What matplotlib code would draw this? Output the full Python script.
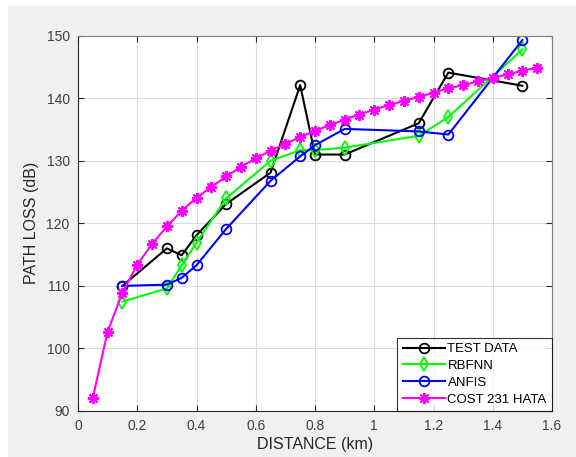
import matplotlib
matplotlib.use("Agg")
import matplotlib.pyplot as plt
from matplotlib.patches import Rectangle

plt.rcParams['font.family'] = ['Liberation Sans', 'DejaVu Sans']

# Measured path loss and model predictions (dB) versus distance (km)
distance = [0.15, 0.30, 0.35, 0.40, 0.50, 0.65, 0.75, 0.80, 0.90, 1.15, 1.25, 1.50]
test_data = [110.0, 116.0, 114.9, 118.1, 123.1, 128.1, 142.1, 131.0, 131.0, 136.0, 144.1, 142.0]
rbfnn = [107.5, 109.6, 113.3, 116.9, 124.0, 130.0, 131.7, 131.7, 132.1, 134.0, 137.0, 147.8]
anfis = [110.0, 110.2, 111.3, 113.3, 119.1, 126.8, 130.7, 132.5, 135.1, 134.7, 134.2, 149.3]

hata_distance = [0.05, 0.10, 0.15, 0.20, 0.25, 0.30, 0.35, 0.40, 0.45, 0.50,
                 0.55, 0.60, 0.65, 0.70, 0.75, 0.80, 0.85, 0.90, 0.95, 1.00,
                 1.05, 1.10, 1.15, 1.20, 1.25, 1.30, 1.35, 1.40, 1.45, 1.50, 1.55]
hata = [92.1, 102.7, 108.9, 113.4, 116.7, 119.5, 122.0, 124.1, 125.8, 127.5,
        129.0, 130.4, 131.6, 132.7, 133.8, 134.8, 135.7, 136.6, 137.4, 138.2,
        138.9, 139.6, 140.2, 140.9, 141.6, 142.1, 142.7, 143.3, 143.8, 144.4, 144.9]

x_ticks = [0, 0.2, 0.4, 0.6, 0.8, 1, 1.2, 1.4, 1.6]
x_tick_labels = ['0', '0.2', '0.4', '0.6', '0.8', '1', '1.2', '1.4', '1.6']
y_ticks = [90, 100, 110, 120, 130, 140, 150]

W, H = 576, 457
fig = plt.figure(figsize=(W / 100, H / 100), dpi=100)
fig.patch.set_facecolor('white')
fig.patches.append(Rectangle((8 / W, 0), 1 - 8 / W, 1 - 6 / H,
                             transform=fig.transFigure, facecolor='#f0f0f0',
                             edgecolor='none', zorder=-10))

ax = fig.add_axes([78 / W, 1 - 411 / H, (552 - 78) / W, (411 - 35.7) / H])
ax.set_facecolor('white')

lw = 1.5
asterisk = (8, 2, 0)
ax.plot(distance, test_data, color='black', marker='o', ms=7, mfc='none', mew=1.3,
        lw=lw, label='TEST DATA')
ax.plot(distance, rbfnn, color='#00ff00', marker='d', ms=7.5, mfc='none', mew=1.3,
        lw=lw, label='RBFNN')
ax.plot(distance, anfis, color='#0000ff', marker='o', ms=7, mfc='none', mew=1.3,
        lw=lw, label='ANFIS')
ax.plot(hata_distance, hata, color='#ff00ff', marker=asterisk, ms=8, mew=1.4,
        lw=lw, label='COST 231 HATA')

ax.set_xlim(0, 1.6)
ax.set_ylim(90, 150)
ax.set_xticks(x_ticks)
ax.set_xticklabels(x_tick_labels)
ax.set_yticks(y_ticks)
ax.grid(True, color='#dcdcdc', lw=0.8)
ax.set_axisbelow(True)
ax.tick_params(direction='in', length=4, colors='#262626', labelcolor='#404040',
               labelsize=10, top=True, right=True, pad=6)
for sp in ax.spines.values():
    sp.set_color('#262626')
    sp.set_linewidth(0.8)
ax.spines['top'].set_color('#808080')
ax.spines['right'].set_color('#808080')

ax.set_xlabel('DISTANCE (km)', fontsize=11.5, color='#262626', labelpad=3)
ax.set_ylabel('PATH LOSS (dB)', fontsize=11.5, color='#262626', labelpad=5)

leg = ax.legend(loc='lower right', fontsize=9.5, frameon=True, fancybox=False,
                borderaxespad=0.0, handlelength=3.2, handletextpad=0.2,
                borderpad=0.4, labelspacing=0.35)
leg.get_frame().set_edgecolor('black')
leg.get_frame().set_linewidth(0.8)

fig.savefig('out.png', dpi=100, facecolor=fig.get_facecolor())
